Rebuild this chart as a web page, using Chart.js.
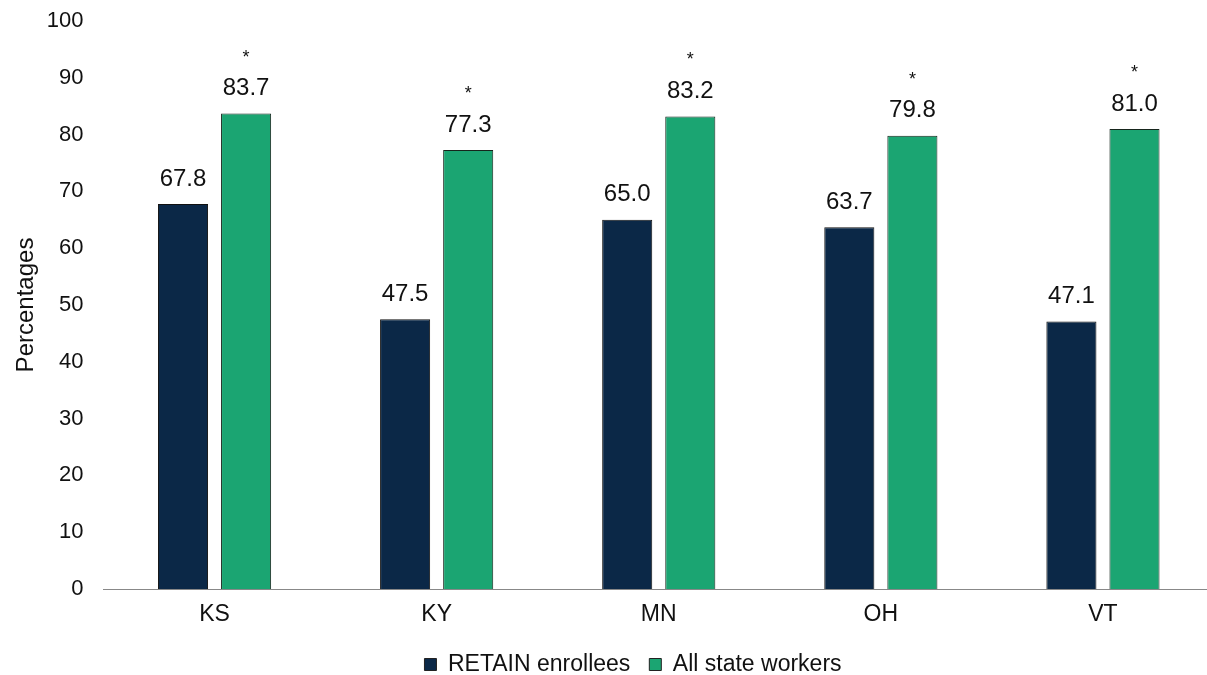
<!DOCTYPE html>
<html><head><meta charset="utf-8">
<script src="https://cdn.jsdelivr.net/npm/chart.js@4/dist/chart.umd.min.js"></script>
<style>html,body{margin:0;padding:0;background:#fff;overflow:hidden;width:1207px;height:675px}#w{position:absolute;left:0;top:0;width:1214px;height:675px}</style>
</head><body><div id="w"><canvas id="c"></canvas></div>
<script>
const categories = ["KS","KY","MN","OH","VT"];
const retainValues = [67.8, 47.5, 65.0, 63.7, 47.1];
const allWorkerValues = [83.7, 77.3, 83.2, 79.8, 81.0];
const significant = [true, true, true, true, true];
const yTicks = [0,10,20,30,40,50,60,70,80,90,100];
const seriesNames = ["RETAIN enrollees","All state workers"];

const FONT = "'Liberation Sans', Arial, sans-serif";
const labelPlugin = {
  id: 'labels',
  afterLayout(chart){
    if (chart.legend) { chart.legend.left += 20; chart.legend.right += 20; }
  },
  afterDatasetsDraw(chart){
    const ctx = chart.ctx;
    ctx.save();
    ctx.fillStyle = '#111';
    ctx.textAlign = 'center';
    ctx.textBaseline = 'middle';
    chart.data.datasets.forEach((ds, di) => {
      const meta = chart.getDatasetMeta(di);
      meta.data.forEach((bar, i) => {
        ctx.font = '24px ' + FONT;
        ctx.fillText(ds.data[i].toFixed(1), bar.x, bar.y - 25);
        if (di === 1 && significant[i]) {
          ctx.font = '18px ' + FONT;
          ctx.fillText('*', bar.x, bar.y - 56);
        }
      });
    });
    ctx.restore();
  }
};

new Chart(document.getElementById('c'), {
  type: 'bar',
  data: {
    labels: categories,
    datasets: [
      {label: seriesNames[0], data: retainValues, backgroundColor: '#0b2847', borderColor: '#111', borderWidth: 1, barPercentage: 0.794, categoryPercentage: 0.568},
      {label: seriesNames[1], data: allWorkerValues, backgroundColor: '#1ba572', borderColor: '#16251c', borderWidth: 1, barPercentage: 0.794, categoryPercentage: 0.568}
    ]
  },
  options: {
    responsive: true,
    maintainAspectRatio: false,
    animation: false,
    layout: {padding: {top: 21, left: 12, right: 0, bottom: -11}},
    plugins: {
      legend: {
        position: 'bottom',
        labels: {boxWidth: 12, boxHeight: 12, font: {size: 23, family: FONT}, color: '#111', padding: 19,
          generateLabels(chart){
            return chart.data.datasets.map((ds,i)=>({text: ds.label, fillStyle: ds.backgroundColor, strokeStyle: '#222', lineWidth: 1, datasetIndex: i, fontColor:'#111'}));
          }
        }
      },
      tooltip: {enabled: false}
    },
    scales: {
      x: {
        grid: {display: false, drawTicks: false},
        border: {display: true, color: '#888', width: 1},
        ticks: {font: {size: 23, family: FONT}, color: '#111', padding: 12},
        afterFit(s){ s.height = 45; }
      },
      y: {
        min: 0, max: 100,
        afterBuildTicks(s){ s.ticks = yTicks.map(v=>({value:v})); },
        grid: {display: false, drawTicks: false},
        border: {display: false},
        ticks: {font: {size: 22, family: FONT}, color: '#111', padding: 20},
        title: {display: true, text: 'Percentages', font: {size: 24, family: FONT}, color: '#111', padding: 0},
        afterFit(s){ s.width = 91.5; s.paddingTop = 0; s.paddingBottom = 0; }
      }
    }
  },
  plugins: [labelPlugin]
});
</script>
</body></html>
